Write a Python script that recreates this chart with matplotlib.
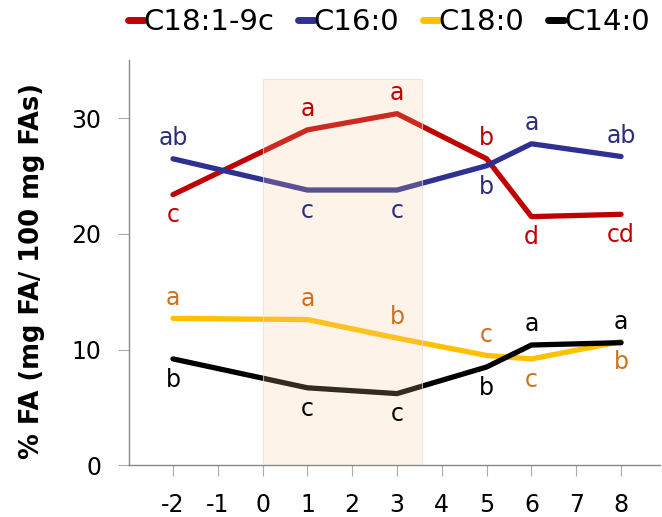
import matplotlib
matplotlib.use("Agg")
import matplotlib.pyplot as plt
from matplotlib import font_manager
from matplotlib.patches import Rectangle

names = {f.name for f in font_manager.fontManager.ttflist}
fam = 'DejaVu Sans'
for cand in ['DejaVu Sans Condensed', 'Liberation Sans Narrow']:
    if cand in names:
        fam = cand
        break
plt.rcParams['font.family'] = [fam, 'DejaVu Sans']
plt.rcParams['axes.unicode_minus'] = False

# data
days = [-2, 1, 3, 5, 6, 8]
c18_1 = [23.4, 29.0, 30.4, 26.5, 21.5, 21.7]
c16_0 = [26.5, 23.8, 23.8, 25.9, 27.8, 26.7]
c18_0 = [12.7, 12.6, 11.0, 9.5, 9.2, 10.7]
c14_0 = [9.2, 6.7, 6.2, 8.5, 10.4, 10.6]

c18_1_let = ['c', 'a', 'a', 'b', 'd', 'cd']
c16_0_let = ['ab', 'c', 'c', 'b', 'a', 'ab']
c18_0_let = ['a', 'a', 'b', 'c', 'c', 'b']
c14_0_let = ['b', 'c', 'c', 'b', 'a', 'a']

# +1 above the line, -1 below
c18_1_pos = [-1, 1, 1, 1, -1, -1]
c16_0_pos = [1, -1, -1, -1, 1, 1]
c18_0_pos = [1, 1, 1, 1, -1, -1]
c14_0_pos = [-1, -1, -1, -1, 1, 1]

xticks = list(range(-2, 9))

series = [
    ("C18:1-9c", c18_1, c18_1_let, c18_1_pos, "#C00000", "#C00000"),
    ("C16:0", c16_0, c16_0_let, c16_0_pos, "#2E3192", "#2B2D78"),
    ("C18:0", c18_0, c18_0_let, c18_0_pos, "#FFC000", "#D0701A"),
    ("C14:0", c14_0, c14_0_let, c14_0_pos, "#000000", "#000000"),
]

fig = plt.figure(figsize=(6.62, 5.17), dpi=100)
ax = fig.add_axes([0.195, 0.1, 0.802, 0.783])

for name, vals, lets, pos, col, tcol in series:
    ax.plot(days, vals, color=col, lw=3.8, solid_capstyle='round',
            solid_joinstyle='round', label=name, zorder=2)
    for x, y, t, p in zip(days, vals, lets, pos):
        ax.annotate(t, (x, y), xytext=(0, 15 * p), textcoords='offset points',
                    ha='center', va='center', fontsize=17, color=tcol, zorder=4)

# treatment period shading drawn over the lines
ax.add_patch(Rectangle((0, 0), 3.55, 33.4, facecolor=(0.98, 0.79, 0.6, 0.21),
                       edgecolor=(0.92, 0.86, 0.82, 0.7), lw=0.8, zorder=3))

ax.set_xlim(-2.98, 8.87)
ax.set_ylim(0, 35)
ax.set_xticks(xticks)
ax.set_yticks([0, 10, 20, 30])
ax.tick_params(axis='both', labelsize=17, colors='#aaaaaa', labelcolor='black',
               length=8, width=0.8)
ax.tick_params(axis='y', pad=12)
ax.tick_params(axis='x', pad=12)
for s in ['top', 'right']:
    ax.spines[s].set_visible(False)
for s in ['left', 'bottom']:
    ax.spines[s].set_color('#888888')
    ax.spines[s].set_linewidth(1.0)

ax.set_ylabel("% FA (mg FA/ 100 mg FAs)", fontsize=18.5, fontweight='bold',
              family='DejaVu Sans')
ax.yaxis.set_label_coords(-0.158, 0.48)

leg = fig.legend(loc='center', bbox_to_anchor=(0.587, 0.957), ncol=4, frameon=False,
                 fontsize=21, handlelength=0.55, handletextpad=0.0, columnspacing=0.8)
for h in leg.get_lines():
    h.set_linewidth(5)

fig.savefig("out.png", dpi=100)
